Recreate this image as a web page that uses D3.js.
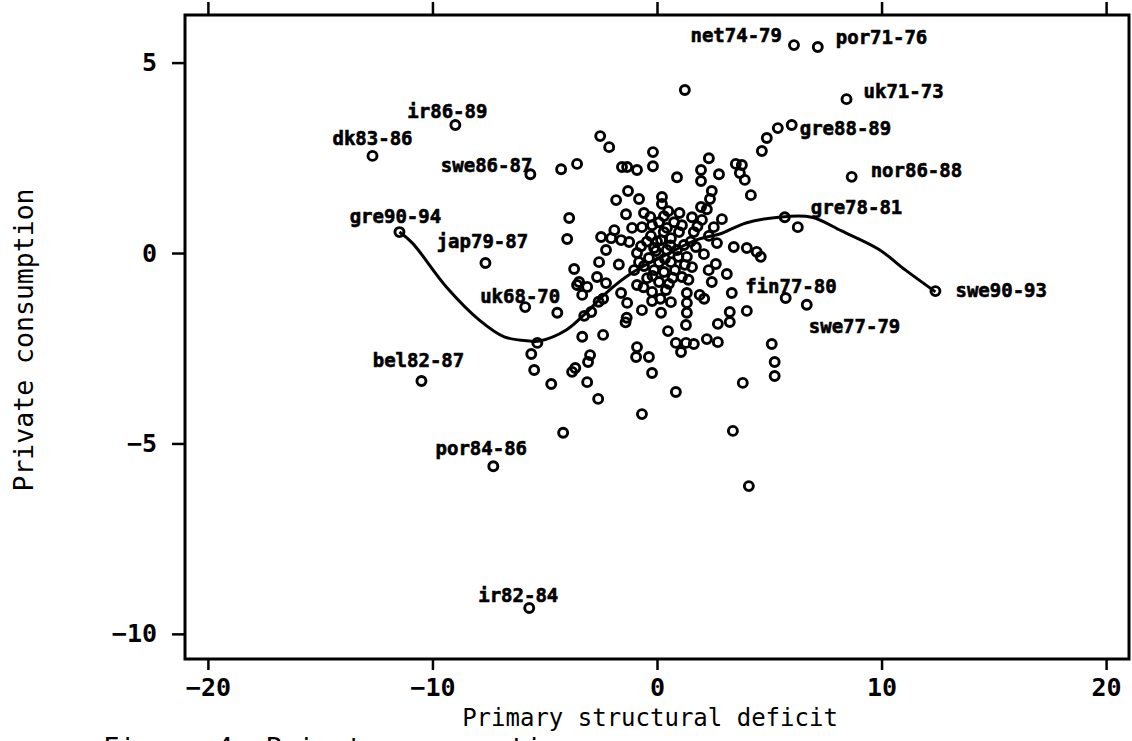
<!DOCTYPE html>
<html>
<head>
<meta charset="utf-8">
<script src="https://cdn.jsdelivr.net/npm/d3@7"></script>
<style>
  body { margin: 0; background: #fff; }
  svg { display: block; }
  text { font-family: "DejaVu Sans Mono", "Liberation Mono", monospace; fill: #000; }
</style>
</head>
<body>
<div id="vis"></div>
<script>
// labelled observations (country + period)
var labelNames = ['net74-79', 'por71-76', 'uk71-73', 'gre88-89', 'nor86-88', 'gre78-81',
  'swe90-93', 'fin77-80', 'swe77-79', 'dk83-86', 'ir86-89', 'swe86-87', 'gre90-94',
  'jap79-87', 'uk68-70', 'bel82-87', 'por84-86', 'ir82-84'];
var labelDeficit = [6.1, 7.16, 8.44, 6.0, 8.67, 5.69, 12.4, 5.73, 6.67, -12.67, -8.98,
  -5.64, -11.47, -7.64, -5.87, -10.49, -7.29, -5.69];
var labelConsumption = [5.46, 5.41, 4.04, 3.36, 2.0, 0.94, -1.0, -1.18, -1.36, 2.55, 3.36,
  2.07, 0.55, -0.26, -1.42, -3.36, -5.6, -9.32];

// all the other observations
var deficit = [
  1.24, -2.53, -2.13, -4.27, -3.56, -1.56, -1.33, -0.89, -0.18, -0.18, 0.89, 2.31, 1.96, 1.96,
  2.76, 3.51, 3.78, 3.69, 3.91, 4.18, 5.38, 4.89, 4.67, 6.27,
  -1.29, -1.82, -0.8, 0.22, 0.22, -0.58, -1.38, 0.31, -3.91, -4.0, -2.49, -2.04, -1.6, -1.11,
  -0.67, -0.22, -1.24, -0.89, -2.27, -2.58, -3.69, -2.67, -3.47, 2.44, 2.36, 1.96, 2.22, 2.89,
  1.56, 2.0, 2.53, 1.11, 1.64, 2.31, 2.67, 1.2, 1.73, 2.09, 3.42, 4.0, 4.44, 4.62, 1.33, 1.56,
  2.62, 3.11, 2.44, 1.11,
  0.09, 0.44, 0.76, 0.98, 0.62, 0.18, -0.13, 0.44, 0.89, -0.36, 0.09, 0.62, -0.58, -0.13, 0.31,
  0.8, -0.44, 0.09, 0.53, -0.8, -1.02, -0.71, -0.27, 1.24,
  0.3, 0.6, -0.05, 0.35, 0.95, -0.45, 0.7, -0.2, 1.5, 1.0, 0.5, -0.3, 1.4, -0.6, 0.15, 2.3,
  1.8, -1.7, -1.9, 0.0,
  -3.56, -3.11, -3.33, -2.4, -2.6, -2.93, -3.24, -4.44, -5.33, -5.6, -5.47, -4.71, -3.33, -2.4,
  -2.98, -3.07, -3.78, -3.64, -3.11, -2.62, -4.18, -0.89, -0.93, -0.36, -0.22, -0.67, 0.84,
  3.38, 0.49, 1.29, 0.84, 1.29, 1.64, 1.07, 2.22, 2.71, 2.71, 3.24, 3.24, 4.0, 3.33, 5.11,
  5.24, 5.24, 3.82, 4.09, 0.18, 1.33, 1.33, 1.33, 1.9, 2.1, 0.4, 0.62, -0.22, -0.22, -0.67,
  -1.35, -1.4, -0.89, -1.6, -1.33, -2.27
];
var consumption = [
  4.28, 3.07, 2.78, 2.2, 2.34, 2.26, 2.26, 2.18, 2.65, 2.28, 1.99, 2.49, 2.18, 1.89,
  2.07, 2.34, 2.31, 2.1, 1.92, 1.52, 3.28, 3.02, 2.68, 0.68,
  1.63, 1.39, 1.42, 1.47, 1.29, 1.05, 1.02, 0.97, 0.92, 0.37, 0.42, 0.39, 0.34, 0.66,
  0.68, 0.73, 0.29, 0.0, 0.08, -0.24, -0.42, -0.63, -0.76, 1.63, 1.42, 1.21, 1.15, 0.89,
  0.94, 0.87, 0.68, 0.73, 0.55, 0.45, 0.26, 0.21, 0.16, -0.03, 0.16, 0.13, 0.03, -0.1, -0.1, -0.37,
  -0.29, -0.55, -0.76, -0.63,
  0.81, 0.66, 0.81, 0.55, 0.39, 0.34, 0.13, 0.08, 0.08, -0.13, -0.24, -0.24, -0.34, -0.45, -0.5,
  -0.45, -0.66, -0.76, -0.81, -0.24, -0.45, 0.18, 0.45, -0.31,
  0.55, 0.2, 0.05, -0.15, -0.1, 0.3, -0.65, -0.6, 0.3, 1.05, 1.1, 0.95, -0.7, -0.9, -1.2, -0.45,
  0.7, -0.3, 0.6, 0.3,
  -0.84, -0.89, -1.1, -1.2, -1.28, -1.55, -1.65, -1.57, -2.36, -2.65, -3.07, -3.44, -2.2, -2.15,
  -2.68, -2.86, -3.12, -3.02, -3.39, -3.83, -4.72, -2.47, -2.73, -2.73, -3.15, -4.23, -3.65,
  -4.67, -2.05, -1.89, -2.36, -2.36, -2.39, -2.6, -2.26, -2.34, -1.86, -1.81, -1.55, -1.52, -1.05, -2.39,
  -2.86, -3.23, -3.41, -6.12, -1.57, -1.05, -1.31, -1.57, -1.1, -1.2, -0.97, -1.29, -1.02, -1.26, -1.5,
  -1.7, -1.82, -0.84, -1.05, -1.31, -0.79
];

// smoothed curve
var smoothDeficit = [-11.47, -10.89, -9.38, -7.91, -6.8, -5.69, -5.24, -4.04, -3.16, -2.27, -1.11,
  0.22, 1.73, 2.89, 3.96, 5.42, 6.89, 8.22, 9.87, 11.07, 12.4];
var smoothConsumption = [0.55, 0.26, -0.89, -1.76, -2.2, -2.31, -2.31, -2.02, -1.57, -1.05, -0.52,
  -0.1, 0.34, 0.52, 0.79, 0.94, 0.94, 0.58, 0.1, -0.45, -1.02];

var xTicks = [-20, -10, 0, 10, 20];
var yTicks = [-10, -5, 0, 5];

// where each label sits relative to its circle
var labelPlace = {
  'net74-79': { dx: -12, dy: -3, anchor: 'end' },
  'por71-76': { dx: 18, dy: -3, anchor: 'start' },
  'uk71-73': { dx: 17, dy: -1, anchor: 'start' },
  'gre88-89': { dx: 8, dy: 10, anchor: 'start' },
  'nor86-88': { dx: 19, dy: 0, anchor: 'start' },
  'gre78-81': { dx: 26, dy: -3, anchor: 'start' },
  'swe90-93': { dx: 20, dy: 6, anchor: 'start' },
  'fin77-80': { dx: 51, dy: -5, anchor: 'end' },
  'swe77-79': { dx: 2, dy: 28, anchor: 'start' },
  'dk83-86': { dx: 0, dy: -11, anchor: 'middle' },
  'ir86-89': { dx: -8, dy: -7, anchor: 'middle' },
  'swe86-87': { dx: 2, dy: -2, anchor: 'end' },
  'gre90-94': { dx: -4, dy: -9, anchor: 'middle' },
  'jap79-87': { dx: -3, dy: -15, anchor: 'middle' },
  'uk68-70': { dx: -5, dy: -4, anchor: 'middle' },
  'bel82-87': { dx: -3, dy: -14, anchor: 'middle' },
  'por84-86': { dx: -12, dy: -11, anchor: 'middle' },
  'ir82-84': { dx: -11, dy: -6, anchor: 'middle' }
};

var width = 1132;
var height = 741;
var plot = { left: 185, right: 1129, top: 15, bottom: 659 };

var x = d3.scaleLinear().domain([-21.02, 21.02]).range([plot.left, plot.right]);
var y = d3.scaleLinear().domain([-10.66, 6.25]).range([plot.bottom, plot.top]);

var svg = d3.select('#vis')
  .append('svg')
  .attr('width', width)
  .attr('height', height);

// frame
svg.append('rect')
  .attr('x', plot.left)
  .attr('y', plot.top)
  .attr('width', plot.right - plot.left)
  .attr('height', plot.bottom - plot.top)
  .attr('fill', 'none')
  .attr('stroke', '#000')
  .attr('stroke-width', 3);

// bottom axis
var xAxis = svg.append('g')
  .attr('transform', 'translate(0,' + plot.bottom + ')')
  .call(d3.axisBottom(x).tickValues(xTicks).tickSize(11).tickPadding(6).tickFormat(d3.format('d')));

// top axis: ticks only
svg.append('g')
  .attr('transform', 'translate(0,' + plot.top + ')')
  .call(d3.axisTop(x).tickValues(xTicks).tickSize(13).tickFormat(''));

// left axis
var yAxis = svg.append('g')
  .attr('transform', 'translate(' + plot.left + ',0)')
  .call(d3.axisLeft(y).tickValues(yTicks).tickSize(13).tickPadding(15).tickFormat(d3.format('d')));

svg.selectAll('.domain').remove();
svg.selectAll('.tick line').attr('stroke', '#000').attr('stroke-width', 2.5);
svg.selectAll('.tick text')
  .attr('fill', '#000')
  .style('font-family', '"DejaVu Sans Mono", monospace')
  .style('font-size', '25px')
  .style('font-weight', 'bold');
xAxis.selectAll('.tick text').attr('dy', '0.8em');

// smoothed line
var line = d3.line()
  .x(function (d) { return x(d[0]); })
  .y(function (d) { return y(d[1]); })
  .curve(d3.curveCatmullRom.alpha(0.5));

svg.append('path')
  .datum(d3.zip(smoothDeficit, smoothConsumption))
  .attr('d', line)
  .attr('fill', 'none')
  .attr('stroke', '#000')
  .attr('stroke-width', 3);

// points
var points = d3.zip(deficit, consumption).concat(d3.zip(labelDeficit, labelConsumption));

svg.selectAll('.pt')
  .data(points)
  .enter().append('circle')
  .attr('class', 'pt')
  .attr('cx', function (d) { return x(d[0]); })
  .attr('cy', function (d) { return y(d[1]); })
  .attr('r', 4.5)
  .attr('fill', 'none')
  .attr('stroke', '#000')
  .attr('stroke-width', 2.9);

// point labels
svg.selectAll('.lbl')
  .data(labelNames)
  .enter().append('text')
  .attr('class', 'lbl')
  .attr('x', function (d, i) { return x(labelDeficit[i]) + labelPlace[d].dx; })
  .attr('y', function (d, i) { return y(labelConsumption[i]) + labelPlace[d].dy; })
  .attr('text-anchor', function (d) { return labelPlace[d].anchor; })
  .attr('stroke', '#000')
  .attr('stroke-width', 0.6)
  .style('font-size', '19px')
  .style('font-weight', 'bold')
  .text(function (d) { return d; });

// axis titles
svg.append('text')
  .attr('x', (plot.left + plot.right) / 2 - 7)
  .attr('y', 726)
  .attr('text-anchor', 'middle')
  .style('font-size', '24px')
  .text('Primary structural deficit');

svg.append('text')
  .attr('transform', 'translate(33,340) rotate(-90)')
  .attr('text-anchor', 'middle')
  .style('font-size', '26.5px')
  .text('Private consumption');

// caption, cut off by the page edge
svg.append('text')
  .attr('x', 103)
  .attr('y', 757)
  .style('font-size', '27px')
  .text('Figure 4. Private consumption');
</script>
</body>
</html>
